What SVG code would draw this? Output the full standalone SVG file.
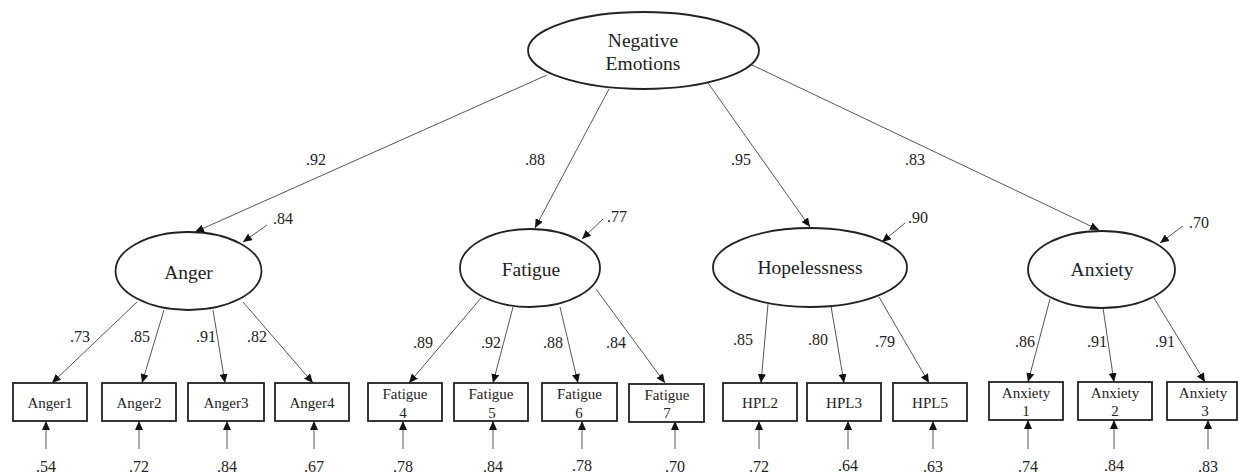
<svg xmlns="http://www.w3.org/2000/svg" width="1239" height="475" viewBox="0 0 1239 475">
  <style>
    .lat { fill: #fff; stroke: #222; stroke-width: 1.8; }
    .obs { fill: #fff; stroke: #222; stroke-width: 1.8; }
    .path { stroke: #555; stroke-width: 1; fill: none; marker-end: url(#ah); }
    text { font-family: "Liberation Serif", "Times New Roman", serif; fill: #222; text-anchor: middle; }
    .tl { font-size: 19.5px; }
    .tb { font-size: 15px; }
    .tn { font-size: 16px; }
  </style>
  <defs>
    <marker id="ah" markerUnits="userSpaceOnUse" markerWidth="10" markerHeight="8" refX="9" refY="4" orient="auto">
      <path d="M0,0 L9,4 L0,8 Z" fill="#111"/>
    </marker>
  </defs>
  <rect width="1239" height="475" fill="#fff"/>

  <!-- connectors: loadings, disturbances and error terms -->
  <g id="connectors">
    <!-- second-order loadings -->
    <line class="path" x1="547" y1="75" x2="195" y2="232"/>
    <line class="path" x1="609" y1="89" x2="535" y2="228"/>
    <line class="path" x1="708" y1="83" x2="810" y2="227"/>
    <line class="path" x1="752" y1="65" x2="1099" y2="230"/>
    <!-- disturbances -->
    <line class="path" x1="267" y1="225" x2="243" y2="242"/>
    <line class="path" x1="603" y1="219" x2="582" y2="239"/>
    <line class="path" x1="905" y1="223" x2="882" y2="242"/>
    <line class="path" x1="1183" y1="226" x2="1160" y2="243"/>
    <!-- Anger items -->
    <line class="path" x1="137" y1="302" x2="52" y2="383"/>
    <line class="path" x1="164" y1="310" x2="142" y2="383"/>
    <line class="path" x1="213" y1="310" x2="225" y2="383"/>
    <line class="path" x1="243" y1="302" x2="313" y2="383"/>
    <!-- Fatigue items -->
    <line class="path" x1="481" y1="298" x2="409" y2="383"/>
    <line class="path" x1="513" y1="307" x2="493" y2="383"/>
    <line class="path" x1="560" y1="307" x2="578" y2="383"/>
    <line class="path" x1="596" y1="289" x2="665" y2="383"/>
    <!-- Hopelessness items -->
    <line class="path" x1="768" y1="304" x2="761" y2="383"/>
    <line class="path" x1="831" y1="306" x2="844" y2="383"/>
    <line class="path" x1="879" y1="297" x2="929" y2="383"/>
    <!-- Anxiety items -->
    <line class="path" x1="1050" y1="299" x2="1028" y2="382"/>
    <line class="path" x1="1103" y1="308" x2="1114" y2="382"/>
    <line class="path" x1="1154" y1="298" x2="1205" y2="382"/>
    <!-- error terms -->
    <line class="path" x1="46" y1="449" x2="46" y2="421"/>
    <line class="path" x1="139" y1="449" x2="139" y2="421"/>
    <line class="path" x1="227" y1="449" x2="227" y2="421"/>
    <line class="path" x1="314" y1="449" x2="314" y2="421"/>
    <line class="path" x1="403" y1="449" x2="403" y2="421"/>
    <line class="path" x1="493" y1="449" x2="493" y2="421"/>
    <line class="path" x1="582" y1="449" x2="582" y2="421"/>
    <line class="path" x1="675" y1="449" x2="675" y2="421"/>
    <line class="path" x1="759" y1="449" x2="759" y2="421"/>
    <line class="path" x1="848" y1="449" x2="848" y2="421"/>
    <line class="path" x1="933" y1="449" x2="933" y2="421"/>
    <line class="path" x1="1028" y1="449" x2="1028" y2="420"/>
    <line class="path" x1="1114" y1="449" x2="1114" y2="420"/>
    <line class="path" x1="1208" y1="449" x2="1208" y2="420"/>

    <!-- coefficients -->
    <g class="tn">
      <text x="316" y="165">.92</text>
      <text x="535" y="165">.88</text>
      <text x="741" y="165">.95</text>
      <text x="915" y="165">.83</text>
      <text x="283" y="224">.84</text>
      <text x="617" y="222">.77</text>
      <text x="918" y="223">.90</text>
      <text x="1199" y="228">.70</text>
      <text x="80" y="342">.73</text>
      <text x="140" y="342">.85</text>
      <text x="206" y="342">.91</text>
      <text x="257" y="342">.82</text>
      <text x="423" y="348">.89</text>
      <text x="491" y="348">.92</text>
      <text x="553" y="348">.88</text>
      <text x="616" y="348">.84</text>
      <text x="743" y="345">.85</text>
      <text x="818" y="345">.80</text>
      <text x="885" y="347">.79</text>
      <text x="1025" y="347">.86</text>
      <text x="1097" y="347">.91</text>
      <text x="1165" y="347">.91</text>
      <text x="46" y="472">.54</text>
      <text x="139" y="472">.72</text>
      <text x="227" y="472">.84</text>
      <text x="314" y="472">.67</text>
      <text x="403" y="472">.78</text>
      <text x="493" y="472">.84</text>
      <text x="582" y="471">.78</text>
      <text x="675" y="472">.70</text>
      <text x="759" y="472">.72</text>
      <text x="848" y="471">.64</text>
      <text x="933" y="472">.63</text>
      <text x="1028" y="472">.74</text>
      <text x="1114" y="471">.84</text>
      <text x="1208" y="472">.83</text>
    </g>
  </g>

  <!-- latent factors -->
  <g id="negative-emotions">
    <ellipse class="lat" cx="643.5" cy="50.5" rx="115.5" ry="38.5"/>
    <text class="tl" x="643" y="47">Negative</text>
    <text class="tl" x="643" y="70">Emotions</text>
  </g>
  <g id="anger">
    <ellipse class="lat" cx="188.5" cy="271" rx="73" ry="39"/>
    <text class="tl" x="188.5" y="279">Anger</text>
  </g>
  <g id="fatigue">
    <ellipse class="lat" cx="530" cy="268" rx="70" ry="39"/>
    <text class="tl" x="531" y="276">Fatigue</text>
  </g>
  <g id="hopelessness">
    <ellipse class="lat" cx="810" cy="267.5" rx="97" ry="39.5"/>
    <text class="tl" x="810" y="274">Hopelessness</text>
  </g>
  <g id="anxiety">
    <ellipse class="lat" cx="1101.5" cy="269.5" rx="73.5" ry="38.5"/>
    <text class="tl" x="1102" y="276">Anxiety</text>
  </g>

  <!-- observed items -->
  <g id="anger1"><rect class="obs" x="13" y="383" width="74" height="38"/><text class="tb" x="50" y="408">Anger1</text></g>
  <g id="anger2"><rect class="obs" x="102" y="383" width="74" height="38"/><text class="tb" x="139" y="408">Anger2</text></g>
  <g id="anger3"><rect class="obs" x="188" y="383" width="76" height="38"/><text class="tb" x="226" y="408">Anger3</text></g>
  <g id="anger4"><rect class="obs" x="275" y="383" width="74" height="38"/><text class="tb" x="312" y="408">Anger4</text></g>

  <g id="fatigue4"><rect class="obs" x="368" y="383" width="74" height="38"/><text class="tb" x="405" y="399">Fatigue</text><text class="tb" x="403" y="418">4</text></g>
  <g id="fatigue5"><rect class="obs" x="454" y="383" width="74" height="38"/><text class="tb" x="491" y="399">Fatigue</text><text class="tb" x="492" y="418">5</text></g>
  <g id="fatigue6"><rect class="obs" x="542" y="383" width="75" height="38"/><text class="tb" x="579.5" y="399">Fatigue</text><text class="tb" x="579" y="418">6</text></g>
  <g id="fatigue7"><rect class="obs" x="629" y="384" width="75" height="38"/><text class="tb" x="667" y="400">Fatigue</text><text class="tb" x="667" y="418">7</text></g>

  <g id="hpl2"><rect class="obs" x="723" y="383" width="74" height="38"/><text class="tb" x="760" y="408">HPL2</text></g>
  <g id="hpl3"><rect class="obs" x="807" y="383" width="74" height="38"/><text class="tb" x="844" y="408">HPL3</text></g>
  <g id="hpl5"><rect class="obs" x="893" y="383" width="74" height="38"/><text class="tb" x="930" y="408">HPL5</text></g>

  <g id="anxiety1"><rect class="obs" x="989" y="382" width="74" height="38"/><text class="tb" x="1026" y="398">Anxiety</text><text class="tb" x="1026" y="416">1</text></g>
  <g id="anxiety2"><rect class="obs" x="1078" y="382" width="74" height="38"/><text class="tb" x="1115" y="398">Anxiety</text><text class="tb" x="1115" y="416">2</text></g>
  <g id="anxiety3"><rect class="obs" x="1167" y="382" width="70" height="38"/><text class="tb" x="1203" y="398">Anxiety</text><text class="tb" x="1205" y="416">3</text></g>
</svg>
